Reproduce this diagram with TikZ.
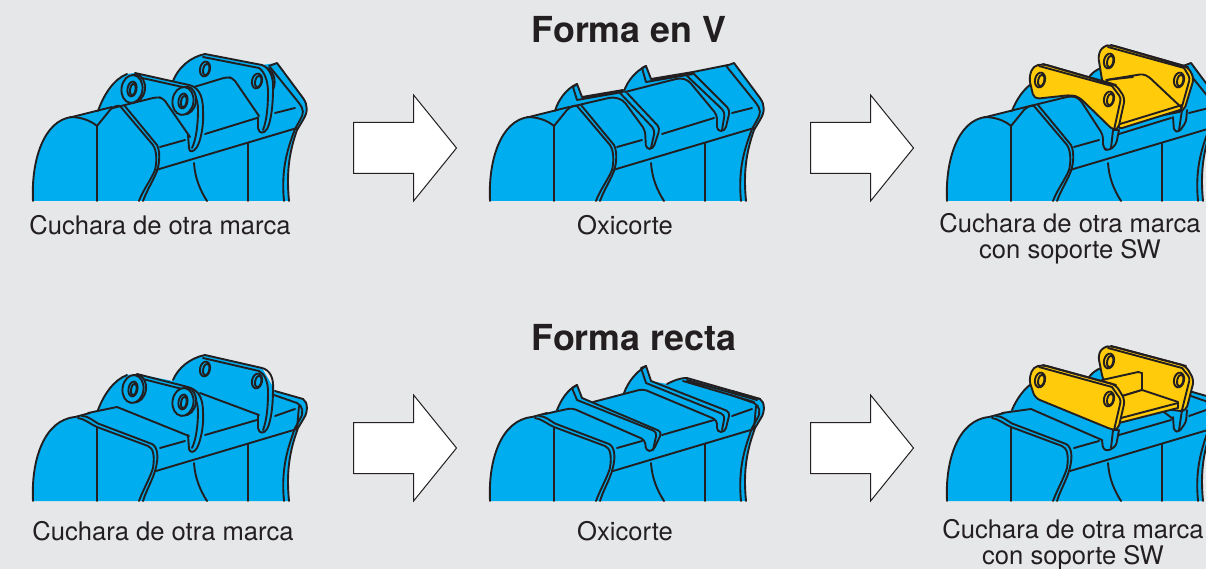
\documentclass[tikz,border=0pt]{standalone}
\usepackage{fontspec}
\setmainfont{TeX Gyre Heros}
\usetikzlibrary{shapes.arrows}
\definecolor{bgGrey}{HTML}{E6E7E9}
\definecolor{bucketBlue}{HTML}{00AEEF}
\definecolor{mountYellow}{HTML}{FFCB0B}
\definecolor{inkLine}{HTML}{231F20}
\tikzset{
	ink/.style={draw=inkLine,line width=1.9pt,line join=round,line cap=round},
	blue/.style={ink,fill=bucketBlue},
	yellow/.style={ink,fill=mountYellow},
	bodyfill/.style={fill=bucketBlue},
	bigarrow/.style={draw=inkLine,line width=1pt,fill=white,single arrow,anchor=tail,
		minimum height=103pt,inner sep=25pt,single arrow head extend=27.5pt,
		single arrow tip angle=102,single arrow head indent=0pt},
	heading/.style={font=\bfseries\fontsize{35.8}{38}\selectfont,text=inkLine},
	caption/.style={font=\fontsize{25.6}{26}\selectfont,text=inkLine,align=center},
}
% holes and bosses
\newcommand{\platehole}[1]{
	\draw[ink] #1 ellipse [x radius=5,y radius=7.5,rotate=-12];
	\draw[ink] #1 ++(1.2,.5) ellipse [x radius=3,y radius=6,rotate=-12];
}
\newcommand{\boss}[1]{
	\draw[blue] #1 ++(2.5,-.5) ellipse [x radius=10.5,y radius=14,rotate=-8];
	\draw[blue] #1 ellipse [x radius=10.5,y radius=14,rotate=-8];
	\draw[ink] #1 ellipse [x radius=4.5,y radius=7.5,rotate=-10];
	\draw[ink] #1 ++(.8,.5) ellipse [x radius=2.7,y radius=6,rotate=-10];
}
% body of the bucket with the V shaped front, #1 is the top of its outline
\newcommand{\bodyV}[1]{
	\path[bodyfill] (33,201) .. controls (31,160) and (44,120) .. (72,117) #1 -- (277,63) -- (303,98)
		.. controls (308,105) and (308,112) .. (303,120) -- (297,130)
		.. controls (290,150) and (286,170) .. (289,201) -- cycle;
	\draw[ink] (33,201) .. controls (31,160) and (44,120) .. (72,117) -- (112,107);
	\draw[ink] (70,117) .. controls (80,117) and (90,120) .. (97,126);
	\draw[ink] (97,201) -- (97,126) -- (110,110) .. controls (113,107) and (117,105) .. (120,106) -- (153,145)
		.. controls (157,151) and (157,162) .. (155,170) .. controls (151,180) and (143,190) .. (139,201);
	\draw[ink] (124,105) -- (157,145) .. controls (160,151) and (160,162) .. (157,171) .. controls (153,181) and (147,190) .. (143,201);
	\draw[ink] (156,170) -- (297,128);
	\draw[ink] (160,147) -- (185,140) (205,134) -- (257,118) (275,113) -- (295,108);
	\draw[ink] (248,143) -- (248,201);
	\draw[ink] (194,163) .. controls (195,178) and (200,190) .. (207,201);
	\draw[ink] (269,66) -- (277,63) -- (303,98) .. controls (308,105) and (308,112) .. (303,120) -- (297,130)
		.. controls (290,150) and (286,170) .. (289,201);
	\draw[ink] (270,67) -- (299,103) .. controls (304,110) and (304,113) .. (300,120) -- (295,129)
		.. controls (287,150) and (281,170) .. (284,201);
}
% body of the bucket with the straight front
\newcommand{\bodyR}[1]{
	\path[bodyfill] (33,201) .. controls (31,160) and (44,120) .. (75,117) #1 -- (275,91) -- (303,99)
		.. controls (308,102) and (308,112) .. (304,118) -- (298,128)
		.. controls (290,150) and (286,170) .. (289,201) -- cycle;
	\draw[ink] (33,201) .. controls (31,160) and (44,120) .. (75,117) -- (90,113);
	\draw[ink] (97,127) -- (97,201);
	\draw[ink] (78,118) .. controls (85,119) and (90,124) .. (97,127) -- (148,146)
		.. controls (153,148) and (155,155) .. (153,168) .. controls (150,178) and (143,190) .. (139,201);
	\draw[ink] (82,116) .. controls (88,116) and (92,120) .. (98,123.5) -- (152,144)
		.. controls (158,147) and (159,158) .. (155,171) .. controls (152,181) and (146,191) .. (143,201);
	\draw[ink] (156,171) -- (297,129);
	\draw[ink] (160,148) -- (185,141) (205,135) -- (257,120) (275,116) -- (295,109);
	\draw[ink] (248,144) -- (248,201);
	\draw[ink] (194,163) .. controls (195,178) and (200,190) .. (207,201);
	\draw[ink] (275,91) -- (303,99) .. controls (308,102) and (308,112) .. (304,118) -- (298,128)
		.. controls (290,150) and (286,170) .. (289,201);
	\draw[ink] (274,95) -- (297,103) .. controls (303,106) and (304,113) .. (300,119) -- (295,128)
		.. controls (287,150) and (281,170) .. (284,201);
	\draw[ink] (299,106) -- (297,129);
}
% original ears with their bosses
\newcommand{\earsV}{
	\draw[ink] (98,111) .. controls (104,94) and (114,79) .. (127,74);
	\draw[ink] (173,81) .. controls (178,68) and (190,57) .. (205,54);
	\draw[ink,rounded corners=4pt] (113,108) -- (157,97) -- (163,98) -- (190,137);
	\draw[ink,rounded corners=4pt] (194,87) -- (227,77) -- (233,78) -- (259,116);
	\draw[ink] (135,73) -- (189,85) .. controls (198,87) and (203,95) .. (203,110)
		.. controls (204,125) and (201,140) .. (197,147) .. controls (194,152) and (189,153) .. (189,148) -- (188,135);
	\draw[ink] (133,76) -- (187,88) .. controls (193,90) and (198,97) .. (198,110)
		.. controls (198,125) and (196,140) .. (192,148);
	\draw[ink] (205,54) -- (262,65) .. controls (270,68) and (274,78) .. (273,90)
		.. controls (273,105) and (271,122) .. (267,129) .. controls (264,134) and (259,134) .. (258,128) -- (258,117);
	\draw[ink] (203,57) -- (259,68) .. controls (265,72) and (268,82) .. (268,92)
		.. controls (268,105) and (267,120) .. (263,130);
	\draw[ink] (268,68) .. controls (273,72) and (277,80) .. (273,90);
	\boss{(132,89)}
	\boss{(183,101)}
	\platehole{(205,69)}
	\platehole{(257,81)}
}
\newcommand{\earsR}{
	\draw[ink] (98,110) .. controls (104,94) and (114,80) .. (127,75);
	\draw[ink] (173,80) .. controls (178,68) and (190,58) .. (205,55);
	\draw[ink] (88,113) -- (117,107) -- (189,136);
	\draw[ink] (200,93) -- (259,115);
	\draw[ink] (137,74) -- (188,87) .. controls (198,90) and (203,97) .. (203,112)
		.. controls (204,125) and (201,140) .. (197,148) .. controls (194,153) and (190,153) .. (189,149) -- (188,135);
	\draw[ink] (135,77) -- (186,90) .. controls (193,92) and (198,100) .. (198,112)
		.. controls (198,125) and (196,140) .. (192,148);
	\draw[ink] (205,55) -- (262,68) .. controls (270,70) and (274,78) .. (273,90)
		.. controls (273,105) and (271,122) .. (267,129) .. controls (264,134) and (259,134) .. (258,128) -- (258,115);
	\draw[ink] (203,58) -- (259,71) .. controls (265,74) and (268,82) .. (268,92)
		.. controls (268,105) and (267,120) .. (263,130);
	\boss{(133,89)}
	\boss{(183,102)}
	\platehole{(205,69)}
	\platehole{(257,81)}
}
% plates after the ears are cut off
\newcommand{\cutV}{
	\draw[ink] (98,111) .. controls (101,100) and (110,88) .. (120,84);
	\draw[ink] (167,91) .. controls (171,80) and (179,71) .. (189,66);
	\draw[ink] (116,87) -- (120,84) -- (125,97) -- (166,90) (116,87) -- (120,100) -- (166,92);
	\draw[ink] (185,68) -- (189,66) -- (194,79) -- (236,72) -- (271,65) (185,68) -- (189,82) -- (236,74);
	\draw[ink,rounded corners=4pt] (113,107) -- (156,97) -- (166,100) -- (188,130) -- (189,149) -- (196,149) -- (203,128) -- (170,93);
	\draw[ink,rounded corners=4pt] (163,93) -- (198,130) -- (194,148);
	\draw[ink,rounded corners=4pt] (168,92) -- (223,78) -- (231,80) -- (260,115) -- (260,131) -- (268,131) -- (273,110) -- (236,73);
	\draw[ink,rounded corners=4pt] (228,74) -- (268,112) -- (265,130);
}
\newcommand{\cutR}{
	\draw[ink] (100,110) .. controls (104,100) and (110,90) .. (120,85);
	\draw[ink] (167,93) .. controls (171,82) and (179,72) .. (189,66);
	\draw[ink] (115,88) -- (120,85) -- (125,98) (115,88) -- (120,100);
	\draw[ink] (184,68) -- (189,66) -- (194,81) (184,68) -- (189,83);
	\draw[ink] (210,84) .. controls (216,81) and (222,78) .. (230,78) -- (303,99);
	\draw[ink] (230,80) -- (300,100) (226,81) -- (297,102);
	\draw[ink,rounded corners=4pt] (136,102) -- (186,89) -- (260,120) -- (260,132) -- (268,132) -- (273,112) -- (194,81);
	\draw[ink,rounded corners=4pt] (189,83) -- (268,115) -- (265,130);
	\draw[ink,rounded corners=4pt] (88,114) -- (115,108) -- (188,140) -- (189,151) -- (196,151) -- (205,132) -- (125,98);
	\draw[ink,rounded corners=4pt] (120,100) -- (200,132) -- (196,150);
}
% welded mounting plates
\newcommand{\mountV}{
	\draw[ink] (98,111) .. controls (102,100) and (110,88) .. (120,82);
	\draw[ink] (175,77) .. controls (178,73) and (182,70) .. (187,68);
	\draw[ink,rounded corners=4pt] (112,107) -- (157,96) -- (165,98) -- (189,135) -- (189,148) -- (194,151) -- (202,145) -- (205,130);
	\draw[ink] (199,130) -- (197,148);
	\draw[ink,rounded corners=3pt] (259,117) -- (260,131) -- (265,132) -- (272,122) -- (273,110);
	\draw[ink] (268,110) -- (265,130);
	\draw[yellow,rounded corners=5pt] (188,80) -- (184,55) -- (189,46) -- (197,45) -- (274,67) -- (280,78) -- (270,111) -- (200,125) -- cycle;
	\draw[ink] (197,45) -- (274,67) (194,47) -- (270,68);
	\draw[ink,rounded corners=3pt] (270,68) -- (276,78) -- (267,110);
	\draw[yellow,rounded corners=3pt] (192,80) -- (229,74) -- (235,77) -- (269,109) -- (205,129) -- cycle;
	\draw[ink] (192,80) -- (219,77);
	\draw[ink] (268,105) -- (206,124);
	\draw[yellow,rounded corners=5pt] (120,99) -- (115,78) -- (119,66) -- (129,64) -- (202,85) -- (211,98) -- (204,130) -- (199,130) -- (165,97) -- (157,95) -- cycle;
	\draw[ink] (129,64) -- (202,85) (125,66) -- (198,86);
	\draw[ink,rounded corners=3pt] (198,86) -- (207,98) -- (200,130);
	\platehole{(126,80)}
	\platehole{(195,99)}
	\platehole{(195,61)}
	\platehole{(265,80)}
}
\newcommand{\mountR}{
	\draw[ink] (98,110) .. controls (102,100) and (110,88) .. (120,82);
	\draw[ink] (175,77) .. controls (178,73) and (182,70) .. (187,68);
	\draw[ink] (88,113) -- (117,109) -- (188,140);
	\draw[ink] (250,112) -- (259,119);
	\draw[ink,rounded corners=3pt] (188,140) -- (189,149) -- (194,151) -- (202,146) -- (205,130);
	\draw[ink] (199,130) -- (197,148);
	\draw[ink,rounded corners=3pt] (259,117) -- (260,131) -- (265,132) -- (272,122) -- (273,110);
	\draw[ink] (268,110) -- (265,130);
	\draw[yellow,rounded corners=5pt] (189,80) -- (184,55) -- (189,47) -- (197,46) -- (272,66) -- (280,80) -- (272,111) -- (264,111) -- (210,100) -- cycle;
	\draw[ink] (197,46) -- (272,66) (194,48) -- (268,68);
	\draw[ink,rounded corners=3pt] (268,68) -- (276,78) -- (268,110);
	\draw[yellow] (188,80) -- (224,72) -- (228,73) -- (228,90) -- (208,96) -- cycle;
	\draw[yellow] (205,97) -- (228,90) -- (264,102) -- (264,108) -- (205,123) -- cycle;
	\draw[ink] (207,118) -- (264,103);
	\draw[yellow,rounded corners=5pt] (121,98) -- (115,80) -- (119,67) -- (129,65) -- (202,85) -- (211,100) -- (204,130) -- (199,130) -- cycle;
	\draw[ink] (129,65) -- (202,85) (125,67) -- (198,87);
	\draw[ink,rounded corners=3pt] (198,87) -- (207,100) -- (200,130);
	\platehole{(126,80)}
	\platehole{(195,99)}
	\platehole{(195,61)}
	\platehole{(265,80)}
}

\begin{document}
\begin{tikzpicture}[x=1pt,y=-1pt]
	\path[use as bounding box,fill=bgGrey] (0,0) rectangle (1206,569);
	% first row
	\begin{scope}
		\bodyV{-- (98,111) .. controls (104,94) and (114,79) .. (127,74) -- (135,73) -- (173,81) .. controls (178,68) and (190,57) .. (205,54) -- (262,65)}
		\earsV
	\end{scope}
	\begin{scope}[shift={(457,0)}]
		\bodyV{-- (98,111) .. controls (101,100) and (110,88) .. (120,84) -- (125,97) -- (166,91) .. controls (171,80) and (179,71) .. (189,66) -- (194,79) -- (236,72) -- (271,65)}
		\cutV
	\end{scope}
	\begin{scope}[shift={(914,0)}]
		\bodyV{-- (98,111) .. controls (102,100) and (110,88) .. (120,82) -- (175,77) .. controls (178,73) and (182,70) .. (187,68) -- (270,67)}
		\mountV
	\end{scope}
	% second row
	\begin{scope}[shift={(0,300)}]
		\bodyR{-- (98,110) .. controls (104,94) and (114,80) .. (127,75) -- (137,74) -- (173,81) .. controls (178,68) and (190,58) .. (205,55) -- (262,68) -- (272,85)}
		\earsR
	\end{scope}
	\begin{scope}[shift={(457,300)}]
		\bodyR{-- (100,110) .. controls (104,100) and (110,90) .. (120,85) -- (125,98) -- (136,102) -- (167,93) .. controls (171,82) and (179,72) .. (189,66) -- (194,81) -- (210,84) .. controls (216,81) and (222,78) .. (230,78)}
		\cutR
	\end{scope}
	\begin{scope}[shift={(914,300)}]
		\bodyR{-- (98,110) .. controls (102,100) and (110,88) .. (120,82) -- (175,77) .. controls (178,73) and (182,70) .. (187,68) -- (272,85)}
		\mountR
	\end{scope}
	% block arrows
	\node[bigarrow] (arrowVa) at (353,148) {};
	\node[bigarrow] (arrowVb) at (810,148) {};
	\node[bigarrow] (arrowRa) at (353,448) {};
	\node[bigarrow] (arrowRb) at (810,448) {};
	% texts
	\node[heading] (titleV) at (629,30) {Forma en V};
	\node[heading] (titleR) at (634,338) {Forma recta};
	\node[caption] (capVa) at (160,225) {Cuchara de otra marca};
	\node[caption] (capVb) at (625,225) {Oxicorte};
	\node[caption] (capVc) at (1070,239) {Cuchara de otra marca\\con soporte SW};
	\node[caption] (capRa) at (163,531) {Cuchara de otra marca};
	\node[caption] (capRb) at (625,531) {Oxicorte};
	\node[caption] (capRc) at (1073,545) {Cuchara de otra marca\\con soporte SW};
\end{tikzpicture}
\end{document}
